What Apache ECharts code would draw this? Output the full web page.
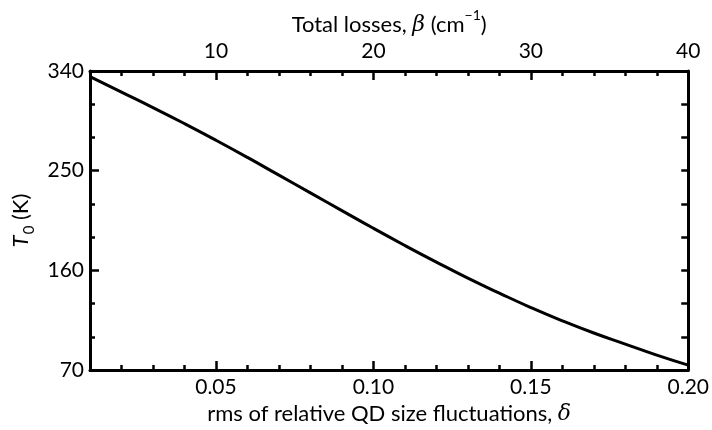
<!DOCTYPE html>
<html>
<head>
<meta charset="utf-8">
<script src="https://cdn.jsdelivr.net/npm/echarts@6/dist/echarts.min.js"></script>
<style>
html, body { margin: 0; padding: 0; background: #fff; }
#chart { width: 712px; height: 430px; }
</style>
</head>
<body>
<div id="chart"></div>
<script>
// rms of relative QD size fluctuations
const delta = [0.01, 0.02, 0.03, 0.04, 0.05, 0.06, 0.07, 0.08, 0.09, 0.10,
               0.11, 0.12, 0.13, 0.14, 0.15, 0.16, 0.17, 0.18, 0.19, 0.20]
// T0 (K)
const t0 = [335, 321, 307, 292.5, 277.5, 262, 246, 230, 214, 198,
            182.5, 167.5, 153, 139.5, 126.5, 114.5, 103.5, 93.5, 83.5, 74.5]

const deltaTicks = [0.05, 0.10, 0.15, 0.20]
const deltaMinor = [0.02, 0.03, 0.04, 0.06, 0.07, 0.08, 0.09, 0.11, 0.12, 0.13, 0.14, 0.16, 0.17, 0.18, 0.19]
const betaTicks = [10, 20, 30, 40]
const betaMinor = [4, 6, 8, 12, 14, 16, 18, 22, 24, 26, 28, 32, 34, 36, 38]
const tempTicks = [70, 160, 250, 340]
const tempMinor = [100, 130, 190, 220, 280, 310]

const FONT = 'Lato'
const black = '#000'

const chart = echarts.init(document.getElementById('chart'))

function minorAxis(position, min, max, values) {
  return {
    type: 'value', position, min, max,
    axisLine: { show: false },
    axisTick: { show: true, inside: true, length: 5, customValues: values, lineStyle: { color: black, width: 2.5 } },
    axisLabel: { show: false },
    splitLine: { show: false }
  }
}

const labelStyle = { color: black, fontSize: 21, fontFamily: FONT }
const titleStyle = { color: black, fontSize: 22, fontFamily: FONT }

chart.setOption({
  animation: false,
  grid: { left: 90, right: 14, top: 71, bottom: 56 },
  xAxis: [
    {
      type: 'value', position: 'bottom', min: 0.01, max: 0.20,
      axisLine: { lineStyle: { color: black, width: 3 } },
      axisTick: { inside: true, length: 9, customValues: deltaTicks, lineStyle: { color: black, width: 2.5 } },
      axisLabel: Object.assign({ customValues: deltaTicks, margin: 7, formatter: v => v.toFixed(2) }, labelStyle),
      splitLine: { show: false },
      name: 'rms of relative QD size fluctuations, {i|δ}',
      nameLocation: 'middle', nameGap: 30,
      nameTextStyle: Object.assign({
        rich: { i: { fontStyle: 'italic', fontSize: 22, fontFamily: 'DejaVu Serif', color: black } }
      }, titleStyle)
    },
    minorAxis('bottom', 0.01, 0.20, deltaMinor),
    {
      type: 'value', position: 'top', min: 2, max: 40,
      axisLine: { lineStyle: { color: black, width: 3 } },
      axisTick: { inside: true, length: 9, customValues: betaTicks, lineStyle: { color: black, width: 2.5 } },
      axisLabel: Object.assign({ customValues: betaTicks, margin: 9 }, labelStyle),
      splitLine: { show: false },
      name: '{n|Total losses, }{i|β}{n| (cm}{sup|−1}{n|)}',
      nameLocation: 'middle', nameGap: 33,
      nameTextStyle: Object.assign({
        rich: {
          n: { fontSize: 22, fontFamily: FONT, color: black, lineHeight: 28, verticalAlign: 'bottom' },
          i: { fontStyle: 'italic', fontSize: 22, fontFamily: 'DejaVu Serif', color: black, lineHeight: 28, verticalAlign: 'bottom' },
          sup: { fontSize: 14, fontFamily: FONT, color: black, lineHeight: 14, verticalAlign: 'top' }
        }
      }, titleStyle)
    },
    minorAxis('top', 2, 40, betaMinor)
  ],
  yAxis: [
    {
      type: 'value', position: 'left', min: 70, max: 340,
      axisLine: { show: true, lineStyle: { color: black, width: 3 } },
      axisTick: { show: true, inside: true, length: 9, customValues: tempTicks, lineStyle: { color: black, width: 2.5 } },
      axisLabel: Object.assign({ customValues: tempTicks, margin: 6 }, labelStyle),
      splitLine: { show: false },
      name: '{i|T}{s|0}{n| (K)}',
      nameLocation: 'middle', nameGap: 55, nameRotate: 90,
      nameTextStyle: Object.assign({
        rich: {
          i: { fontStyle: 'italic', fontSize: 22, fontFamily: FONT, color: black, lineHeight: 24, verticalAlign: 'top' },
          n: { fontSize: 22, fontFamily: FONT, color: black, lineHeight: 24, verticalAlign: 'top' },
          s: { fontSize: 15, fontFamily: FONT, color: black, lineHeight: 15, padding: [12, 0, 0, 1], verticalAlign: 'top' }
        }
      }, titleStyle)
    },
    minorAxis('left', 70, 340, tempMinor),
    {
      type: 'value', position: 'right', min: 70, max: 340,
      axisLine: { show: true, lineStyle: { color: black, width: 3 } },
      axisTick: { show: true, inside: true, length: 7, customValues: tempMinor.concat([160, 250]), lineStyle: { color: black, width: 2.5 } },
      axisLabel: { show: false },
      splitLine: { show: false }
    }
  ],
  series: [{
    type: 'line',
    xAxisIndex: 0,
    yAxisIndex: 0,
    data: delta.map((d, i) => [d, t0[i]]),
    smooth: true,
    showSymbol: false,
    lineStyle: { color: black, width: 3 }
  }]
})
</script>
</body>
</html>
